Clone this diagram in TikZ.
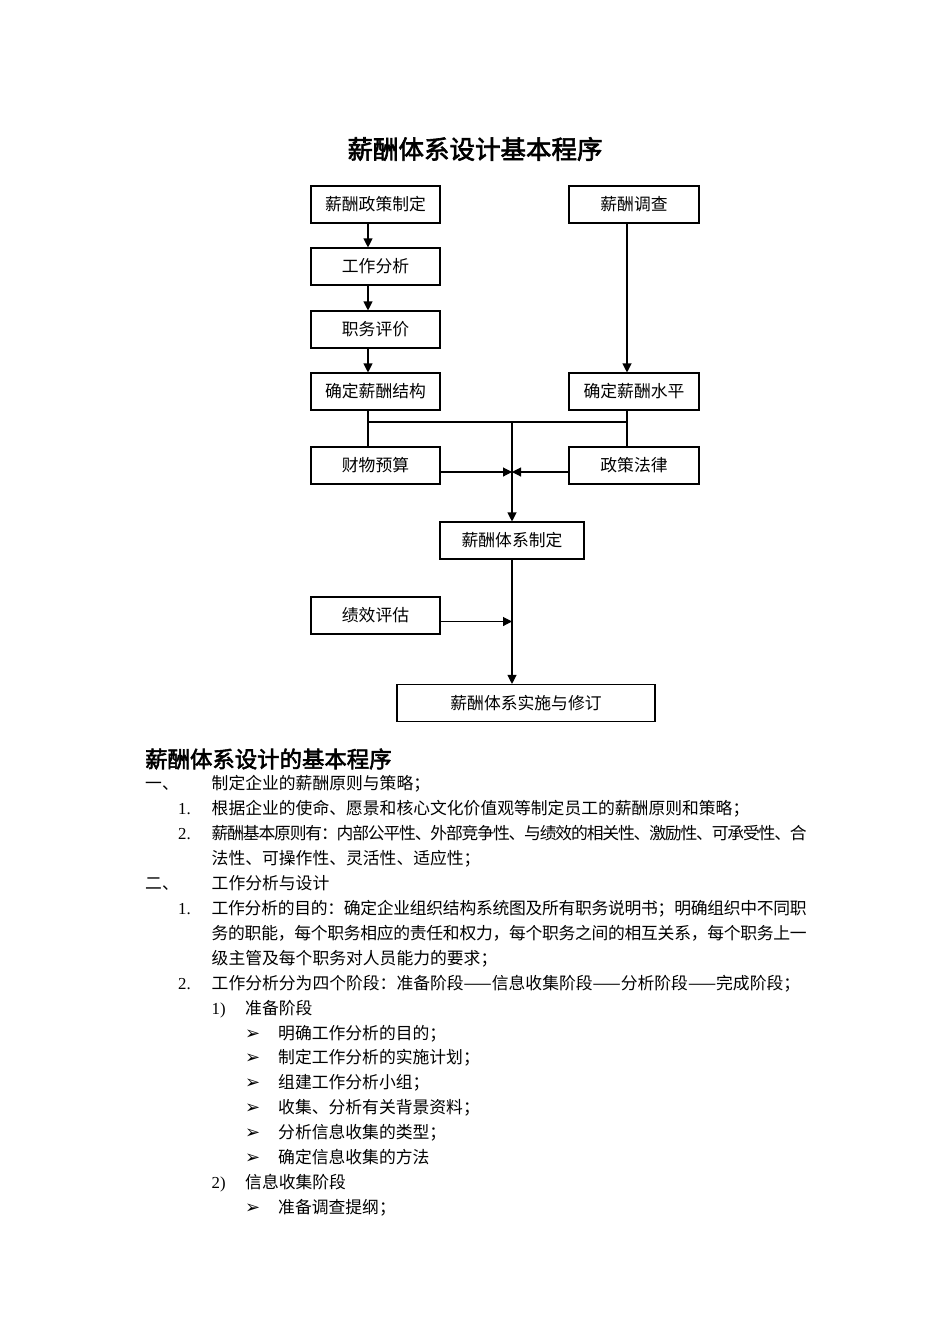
\documentclass[tikz,border=0pt]{standalone}
\usepackage{fontspec}
\setmainfont{Liberation Serif}
\newfontfamily\cjk[AutoFakeBold=2.5]{Noto Sans CJK SC}
\newfontfamily\symf{DejaVu Sans}
\usetikzlibrary{arrows.meta}
\newcommand\jline[2]{\hbox to #1{\jaux#2\relax\unskip}}
\def\jaux#1{\ifx\relax#1\else#1\hskip0pt plus 1fil minus 3pt\expandafter\jaux\fi}
\tikzset{
  flowbox/.style={draw, line width=1.1pt, minimum height=37pt, inner sep=0pt, font=\cjk\fontsize{16.8}{20}\selectfont},
  arr/.style={-{Triangle[length=9pt,width=9pt]}, line width=1.1pt},
  ln/.style={line width=1.1pt},
  txt/.style={anchor=base west, inner sep=0pt, font=\cjk\fontsize{16.8}{20}\selectfont},
  num/.style={anchor=base west, inner sep=0pt, font=\fontsize{16.8}{20}\selectfont},
  bul/.style={anchor=base west, inner sep=0pt, font=\symf\fontsize{18}{20}\selectfont}
}
\begin{document}
\begin{tikzpicture}[x=1pt,y=-1pt]
\fill[white] (0,0) rectangle (950,1344);
\useasboundingbox (0,0) rectangle (950,1344);

% title
\node[inner sep=0pt, font=\cjk\bfseries\fontsize{25.5}{30}\selectfont] (title) at (475,149) {薪酬体系设计基本程序};

% boxes
\node[flowbox, minimum width=129pt] (pf) at (375.5,204.5) {薪酬政策制定};
\node[flowbox, minimum width=129pt] (gz) at (375.5,266.5) {工作分析};
\node[flowbox, minimum width=129pt] (zw) at (375.5,329.5) {职务评价};
\node[flowbox, minimum width=129pt] (jg) at (375.5,391.5) {确定薪酬结构};
\node[flowbox, minimum width=130pt] (dc) at (634,204.5) {薪酬调查};
\node[flowbox, minimum width=130pt] (sp) at (634,391.5) {确定薪酬水平};
\node[flowbox, minimum width=129pt] (cw) at (375.5,465.5) {财物预算};
\node[flowbox, minimum width=130pt] (zc) at (634,465.5) {政策法律};
\node[flowbox, minimum width=144pt] (tx) at (512,540.5) {薪酬体系制定};
\node[flowbox, minimum width=129pt] (jx) at (375.5,615.5) {绩效评估};
\node[flowbox, minimum width=258pt] (ss) at (526,703) {薪酬体系实施与修订};

% connectors
\draw[arr] ([xshift=-7.5pt]pf.south) -- ([xshift=-7.5pt]gz.north);
\draw[arr] ([xshift=-7.5pt]gz.south) -- ([xshift=-7.5pt]zw.north);
\draw[arr] ([xshift=-7.5pt]zw.south) -- ([xshift=-7.5pt]jg.north);
\draw[arr] ([xshift=-7pt]dc.south) -- ([xshift=-7pt]sp.north);
\draw[ln] ([xshift=-7.5pt]jg.south) -- ([xshift=-7.5pt]cw.north);
\draw[ln] ([xshift=-7pt]sp.south) -- ([xshift=-7pt]zc.north);
\coordinate (bl) at (368,422);
\coordinate (br) at (627,422);
\coordinate (bus) at (512,422);
\draw[ln] (bl) -- (br);
\draw[arr] (bus) -- (tx.north);
\draw[arr] ([yshift=-6.5pt]cw.east) -- ([yshift=-6.5pt]cw.east -| tx.north);
\draw[arr] ([yshift=-6.5pt]zc.west) -- ([yshift=-6.5pt]zc.west -| tx.north);
\draw[arr] (tx.south) -- ([xshift=-14pt]ss.north);
\draw[arr] ([yshift=-6pt]jx.east) -- ([yshift=-6pt]jx.east -| tx.south);

% heading
\node[anchor=base west, inner sep=0pt, font=\cjk\bfseries\fontsize{22.4}{26}\selectfont] (head) at (145,767.5) {薪酬体系设计的基本程序};

% body
\node[txt] (a1) at (145,789.4) {一、};
\node[txt] (a2) at (211.5,789.4) {制定企业的薪酬原则与策略；};
\node[num] (b1) at (178,814.4) {1.};
\node[txt] (b2) at (211.5,814.4) {根据企业的使命、愿景和核心文化价值观等制定员工的薪酬原则和策略；};
\node[num] (c1) at (178,839.4) {2.};
\node[txt] (c2) at (211.5,839.4) {\jline{595pt}{薪酬基本原则有：内部公平性、外部竞争性、与绩效的相关性、激励性、可承受性、合}};
\node[txt] (c3) at (211.5,864.3) {法性、可操作性、灵活性、适应性；};
\node[txt] (d1) at (145,889.3) {二、};
\node[txt] (d2) at (211.5,889.3) {工作分析与设计};
\node[num] (e1) at (178,914.2) {1.};
\node[txt] (e2) at (211.5,914.2) {\jline{595pt}{工作分析的目的：确定企业组织结构系统图及所有职务说明书；明确组织中不同职}};
\node[txt] (e3) at (211.5,939.2) {\jline{595pt}{务的职能，每个职务相应的责任和权力，每个职务之间的相互关系，每个职务上一}};
\node[txt] (e4) at (211.5,964.1) {级主管及每个职务对人员能力的要求；};
\node[num] (f1) at (178,989.1) {2.};
\node[txt] (f2) at (211.5,989.1) {工作分析分为四个阶段：准备阶段——信息收集阶段——分析阶段——完成阶段；};
\node[num] (g1) at (211.5,1014.0) {1)};
\node[txt] (g2) at (245,1014.0) {准备阶段};
\node[bul] (h1) at (245,1039.0) {➢};
\node[txt] (h2) at (278,1039.0) {明确工作分析的目的；};
\node[bul] (i1) at (245,1063.9) {➢};
\node[txt] (i2) at (278,1063.9) {制定工作分析的实施计划；};
\node[bul] (j1) at (245,1088.9) {➢};
\node[txt] (j2) at (278,1088.9) {组建工作分析小组；};
\node[bul] (k1) at (245,1113.8) {➢};
\node[txt] (k2) at (278,1113.8) {收集、分析有关背景资料；};
\node[bul] (l1) at (245,1138.8) {➢};
\node[txt] (l2) at (278,1138.8) {分析信息收集的类型；};
\node[bul] (m1) at (245,1163.7) {➢};
\node[txt] (m2) at (278,1163.7) {确定信息收集的方法};
\node[num] (n1) at (211.5,1188.6) {2)};
\node[txt] (n2) at (245,1188.6) {信息收集阶段};
\node[bul] (o1) at (245,1213.6) {➢};
\node[txt] (o2) at (278,1213.6) {准备调查提纲；};
\end{tikzpicture}
\end{document}
